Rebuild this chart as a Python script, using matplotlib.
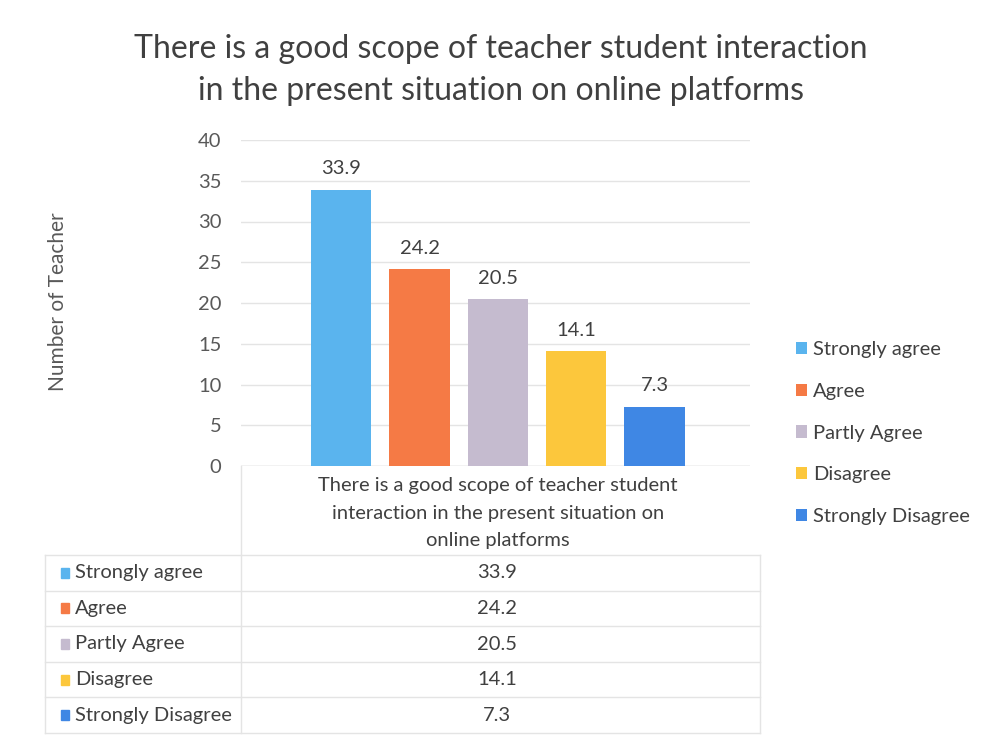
import matplotlib.pyplot as plt
from matplotlib.patches import Patch
import numpy as np

plt.rcParams['font.family'] = ['Lato', 'DejaVu Sans']

title = "There is a good scope of teacher student interaction\nin the present situation on online platforms"
category = "There is a good scope of teacher student\ninteraction in the present situation on\nonline platforms"
labels = ["Strongly agree", "Agree", "Partly Agree", "Disagree", "Strongly Disagree"]
values = [33.9, 24.2, 20.5, 14.1, 7.3]
colors = ["#5AB4EE", "#F57A45", "#C5BBCF", "#FCC73C", "#3F87E4"]
yticks = [0, 5, 10, 15, 20, 25, 30, 35, 40]

W, H = 986, 745
fig = plt.figure(figsize=(W / 100, H / 100), dpi=100)
fig.patch.set_facecolor('white')

def fx(px):
    return px / W

def fy(py):
    return 1 - py / H

text_c = '#404040'
grid_c = '#e4e4e4'
fs = 14.5

ax = fig.add_axes([fx(241), fy(466), fx(750) - fx(241), fy(140) - fy(466)])
pos = np.arange(len(values))
ax.bar(pos, values, width=0.77, color=colors, zorder=3)
for p, v in zip(pos, values):
    ax.text(p, v + 1.5, f"{v}", ha='center', va='bottom', fontsize=fs, color=text_c)
ax.set_xlim(-1.28, 5.22)
ax.set_ylim(0, 40)
ax.set_yticks(yticks)
ax.tick_params(axis='y', length=0, labelsize=fs, labelcolor='#595959', pad=14)
ax.set_xticks([2])
ax.set_xticklabels([category], fontsize=fs, color=text_c, linespacing=1.75)
ax.tick_params(axis='x', length=0, pad=8)
ax.grid(axis='y', color=grid_c, linewidth=1, zorder=0)
for s in ax.spines.values():
    s.set_visible(False)
ax.axhline(0, color='#d9d9d9', linewidth=1, zorder=2)

fig.text(fx(58), fy(302), "Number of Teacher", rotation=90, ha='center', va='center',
         fontsize=15, color='#595959')

fig.text(fx(501), fy(70), title, ha='center', va='center', fontsize=23,
         color='#404040', linespacing=1.5)

handles = [Patch(facecolor=c, edgecolor='none') for c in colors]
fig.legend(handles, labels, loc='upper left', bbox_to_anchor=(fx(778), fy(323)),
           frameon=False, fontsize=fs, handlelength=0.55, handleheight=0.55,
           handletextpad=0.3, labelspacing=1.23, labelcolor='#404040')

# Data table
tab = fig.add_axes([0, 0, 1, 1], facecolor='none')
tab.set_xlim(0, W)
tab.set_ylim(H, 0)
tab.axis('off')
row_top = 555
row_h = 35.6
x_left, x_div, x_right = 45, 241, 760
tab.plot([x_div, x_div], [466, row_top + row_h * 5], color=grid_c, lw=1)
for i in range(6):
    y = row_top + i * row_h
    tab.plot([x_left, x_right], [y, y], color=grid_c, lw=1)
tab.plot([x_left, x_left], [row_top, row_top + row_h * 5], color=grid_c, lw=1)
tab.plot([x_right, x_right], [row_top, row_top + row_h * 5], color=grid_c, lw=1)
for i, (lab, v, c) in enumerate(zip(labels, values, colors)):
    yc = row_top + (i + 0.5) * row_h
    tab.add_patch(plt.Rectangle((61, yc - 5), 8, 10, color=c))
    tab.text(75, yc, lab, ha='left', va='center', fontsize=fs, color=text_c)
    tab.text(497, yc, f"{v}", ha='center', va='center', fontsize=fs, color=text_c)

fig.savefig('out.png', dpi=100, facecolor='white')
